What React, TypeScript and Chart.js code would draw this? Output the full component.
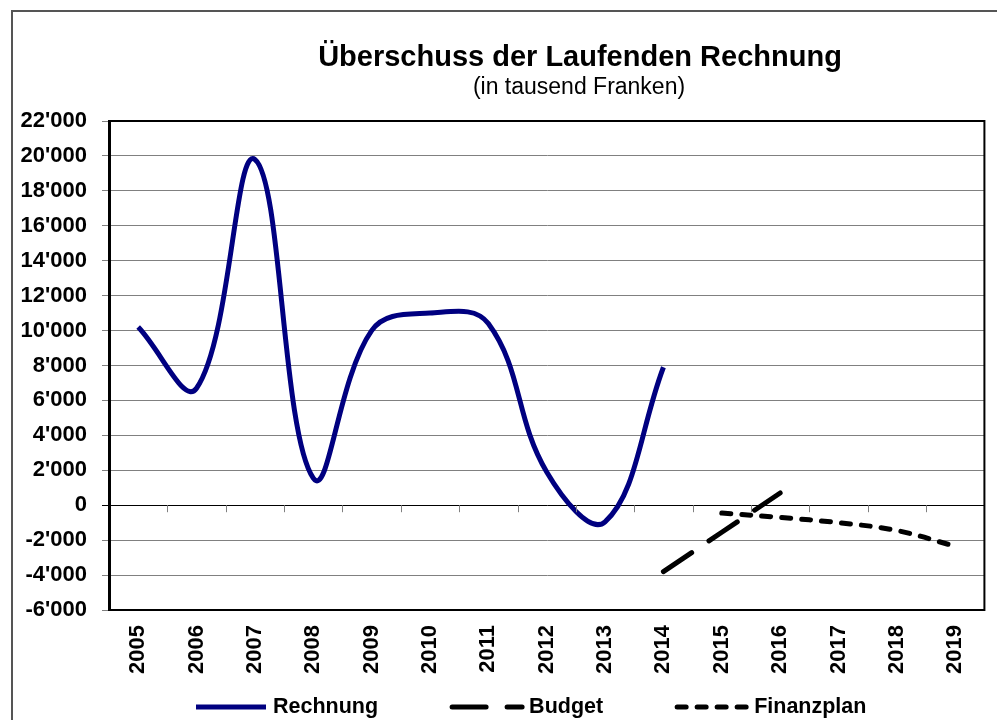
import React, { useEffect, useRef } from 'react';
import { Chart, registerables } from 'chart.js';

Chart.register(...registerables);

// ---- data ----
const years = ['2005', '2006', '2007', '2008', '2009', '2010', '2011', '2012', '2013', '2014', '2015', '2016', '2017', '2018', '2019'];
const rechnung = [10200, 6700, 19800, 1550, 10000, 11000, 10400, 1900, -950, 7900, null, null, null, null, null];
const budget = [null, null, null, null, null, null, null, null, null, -3800, -1550, 700, null, null, null];
const finanzplan = [null, null, null, null, null, null, null, null, null, null, -450, -700, -1000, -1450, -2350];
const seriesNames = ['Rechnung', 'Budget', 'Finanzplan'];
const titleText = 'Überschuss der Laufenden Rechnung';
const subtitleText = '(in tausend Franken)';
const yMin = -6000;
const yMax = 22000;
const yStep = 2000;

const FONT = '"Liberation Sans", Arial, Helvetica, sans-serif';

function fmt(v: number): string {
  const s = Math.abs(v).toString().replace(/\B(?=(\d{3})+(?!\d))/g, "'");
  return (v < 0 ? '-' : '') + s;
}

const decor = {
  id: 'decor',
  beforeDraw(chart: any) {
    const { ctx } = chart;
    ctx.save();
    ctx.fillStyle = '#ffffff';
    ctx.fillRect(0, 0, chart.width, chart.height);
    ctx.restore();
  },
  afterDraw(chart: any) {
    const { ctx, chartArea: a, scales } = chart;
    ctx.save();
    // plot frame
    ctx.strokeStyle = '#000';
    ctx.lineWidth = 2;
    ctx.setLineDash([]);
    ctx.strokeRect(a.left, a.top, a.right - a.left, a.bottom - a.top);
    // category tick marks on the zero line
    const y0 = scales.y.getPixelForValue(0);
    const xs = scales.x;
    ctx.strokeStyle = '#808080';
    ctx.lineWidth = 1;
    for (let i = 1; i < years.length; i++) {
      const px = Math.round((xs.getPixelForValue(i - 1) + xs.getPixelForValue(i)) / 2) + 0.5;
      ctx.beginPath();
      ctx.moveTo(px, y0);
      ctx.lineTo(px, y0 + 7);
      ctx.stroke();
    }
    // outer frame
    ctx.strokeStyle = '#555';
    ctx.lineWidth = 2;
    ctx.beginPath();
    ctx.moveTo(12, chart.height);
    ctx.lineTo(12, 11);
    ctx.lineTo(chart.width, 11);
    ctx.stroke();
    // title
    ctx.fillStyle = '#000';
    ctx.textAlign = 'center';
    ctx.textBaseline = 'middle';
    ctx.font = 'bold 29px ' + FONT;
    ctx.fillText(titleText, 580, 58);
    ctx.font = '23px ' + FONT;
    ctx.fillText(subtitleText, 579, 88);
    // legend
    ctx.font = 'bold 21.5px ' + FONT;
    ctx.textAlign = 'left';
    let x = 196;
    const ly = 707;
    chart.data.datasets.forEach((ds: any) => {
      ctx.strokeStyle = ds.borderColor;
      ctx.lineWidth = ds.borderWidth;
      ctx.lineCap = ds.borderCapStyle || 'butt';
      ctx.setLineDash(ds.borderDash || []);
      ctx.beginPath();
      ctx.moveTo(x, ly);
      ctx.lineTo(x + 70, ly);
      ctx.stroke();
      ctx.setLineDash([]);
      const tx = x + 77;
      ctx.fillStyle = '#000';
      ctx.fillText(ds.label, tx, ly);
      x = tx + ctx.measureText(ds.label).width + 74;
    });
    ctx.restore();
  },
};

export default function App() {
  const ref = useRef<HTMLCanvasElement | null>(null);
  useEffect(() => {
    if (!ref.current) return;
    const chart = new Chart(ref.current, {
      type: 'line',
      data: {
        labels: years,
        datasets: [
          {
            label: seriesNames[0],
            data: rechnung,
            borderColor: '#000080',
            borderWidth: 5,
            tension: 0.4,
            pointRadius: 0,
            borderCapStyle: 'butt',
            fill: false,
          },
          {
            label: seriesNames[1],
            data: budget,
            borderColor: '#000000',
            borderWidth: 5,
            borderDash: [34, 21],
            borderCapStyle: 'round',
            tension: 0.4,
            pointRadius: 0,
            fill: false,
          },
          {
            label: seriesNames[2],
            data: finanzplan,
            borderColor: '#000000',
            borderWidth: 5,
            borderDash: [9, 11],
            borderCapStyle: 'round',
            tension: 0.4,
            pointRadius: 0,
            fill: false,
          },
        ],
      },
      options: {
        responsive: false,
        animation: false,
        devicePixelRatio: 1,
        layout: { padding: { left: 0, top: 121, right: 11, bottom: 0 } },
        plugins: {
          legend: { display: false },
          title: { display: false },
          tooltip: { enabled: false },
        },
        scales: {
          x: {
            type: 'category',
            offset: true,
            grid: { display: false, drawTicks: false },
            border: { display: false },
            ticks: {
              autoSkip: false,
              maxRotation: 90,
              minRotation: 90,
              padding: 15,
              color: '#000',
              font: { family: FONT, size: 22, weight: 'bold' },
            },
            afterFit(scale: any) {
              scale.height = 110;
            },
          },
          y: {
            min: yMin,
            max: yMax,
            ticks: {
              stepSize: yStep,
              padding: 15,
              color: '#000',
              font: { family: FONT, size: 22, weight: 'bold' },
              callback: (v: any) => fmt(Number(v)),
            },
            grid: {
              color: (c: any) => (c.tick && c.tick.value === 0 ? '#000000' : '#808080'),
              lineWidth: 1,
              tickLength: 7,
            },
            border: { display: true, color: '#000', width: 3 },
            afterFit(scale: any) {
              scale.width = 109;
            },
          },
        },
      },
      plugins: [decor],
    });
    return () => chart.destroy();
  }, []);
  return (
    <div style={{ position: 'fixed', left: 0, top: 0, width: 997, height: 720 }}>
      <canvas ref={ref} width={997} height={720} />
    </div>
  );
}
